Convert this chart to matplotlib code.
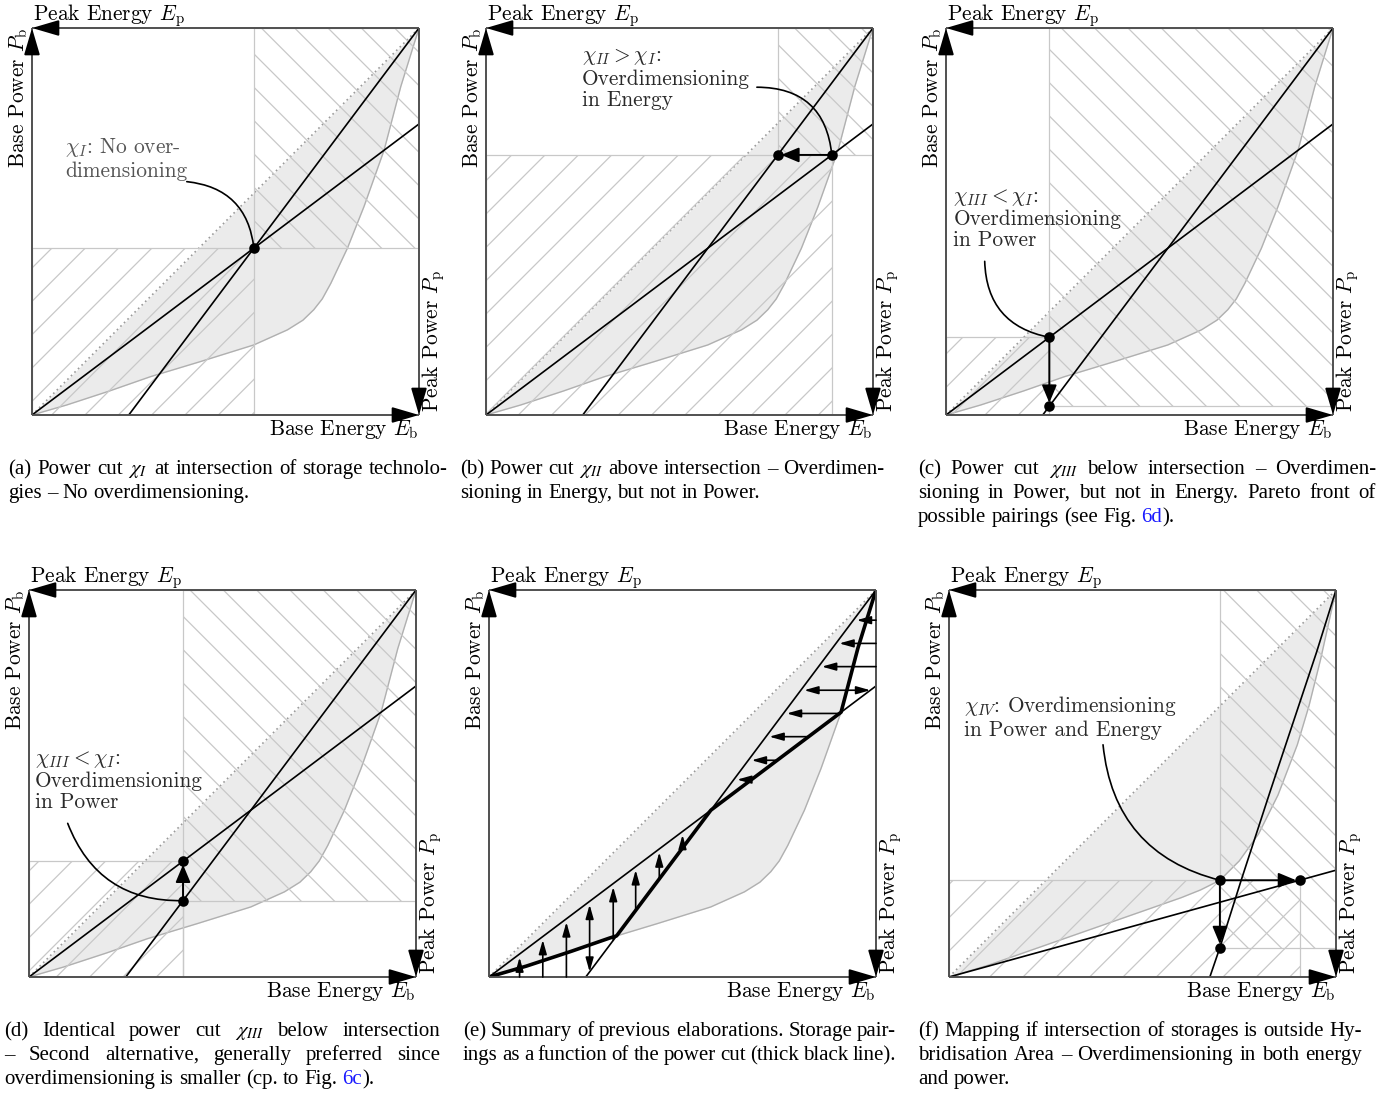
import matplotlib
matplotlib.use('Agg')
import matplotlib.pyplot as plt
from matplotlib.patches import Rectangle
import numpy as np

W, H, DPI = 1384, 1097, 200
plt.rcParams['hatch.linewidth'] = 0.45
plt.rcParams['mathtext.fontset'] = 'cm'

# lower edge of the hybridisation area (unit coords), panels a-e
curve_x = [0.0, 0.09, 0.2, 0.306, 0.435, 0.573, 0.66, 0.7, 0.728, 0.75, 0.772, 0.815, 0.858, 0.91, 0.953, 1.0]
curve_y = [0.0, 0.026, 0.062, 0.099, 0.138, 0.181, 0.22, 0.245, 0.272, 0.30, 0.34, 0.431, 0.539, 0.685, 0.849, 1.0]
# lower edge in panel f
curve_f_x = [0.0, 0.1, 0.2, 0.3, 0.4, 0.5, 0.6, 0.65, 0.7, 0.75, 0.8, 0.85, 0.9, 0.93, 0.96, 0.98, 1.0]
curve_f_y = [0.0, 0.03, 0.065, 0.10, 0.135, 0.17, 0.205, 0.225, 0.25, 0.30, 0.37, 0.47, 0.60, 0.70, 0.82, 0.91, 1.0]

# storage technology lines
shallow_slope = 0.752          # line through origin
steep_x0 = 0.25                # steep line from (steep_x0, 0) to (1, 1)
shallow_f_slope = 0.276        # panel f
steep_f_x = [0.674, 0.70, 0.755, 0.83, 0.90, 0.95, 1.0]
steep_f_y = [0.0, 0.076, 0.25, 0.48, 0.69, 0.84, 1.0]

# power cuts
cut_b = 0.672      # power level, panel b
cut_c = 0.267      # energy level, panel c
cut_d = 0.398      # energy level, panel d
cut_f = (0.70, 0.25)

# panel e arrows
up_x = [0.079, 0.139, 0.2, 0.26, 0.321, 0.379, 0.44, 0.5]
up_double = [0, 0, 0, 1, 0, 0, 0, 0]
left_y = [0.922, 0.862, 0.802, 0.741, 0.681, 0.621, 0.56, 0.51]
left_double = [0, 0, 0, 1, 0, 0, 0, 0]

captions = {
    'a': ["(a) Power cut $\\chi_I$ at intersection of storage technolo-",
          "gies – No overdimensioning."],
    'b': ["(b) Power cut $\\chi_{II}$ above intersection – Overdimen-",
          "sioning in Energy, but not in Power."],
    'c': ["(c) Power cut $\\chi_{III}$ below intersection – Overdimen-",
          "sioning in Power, but not in Energy. Pareto front of",
          "possible pairings (see Fig. #6d#)."],
    'd': ["(d) Identical power cut $\\chi_{III}$ below intersection",
          "– Second alternative, generally preferred since",
          "overdimensioning is smaller (cp. to Fig. #6c#)."],
    'e': ["(e) Summary of previous elaborations. Storage pair-",
          "ings as a function of the power cut (thick black line)."],
    'f': ["(f) Mapping if intersection of storages is outside Hy-",
          "bridisation Area – Overdimensioning in both energy",
          "and power."],
}
cap_box = {'a': (8, 448, 474), 'b': (460, 884, 474), 'c': (918, 1376, 474),
           'd': (4, 440, 1036), 'e': (463, 896, 1036), 'f': (918, 1362, 1036)}

S = 387
boxes = {'a': (32, 28), 'b': (486, 28), 'c': (946, 28),
         'd': (29, 590), 'e': (489, 590), 'f': (949, 590)}

fig = plt.figure(figsize=(W / DPI, H / DPI), dpi=DPI)
px = 1.0 / S
FS = 7.7
tkw = dict(family='cmr10', math_fontfamily='cm', fontsize=FS)


def shallow(x):
    return shallow_slope * np.asarray(x)


def steep(x):
    return (np.asarray(x) - steep_x0) / (1 - steep_x0)


def make_panel(key):
    L, T = boxes[key]
    ax = fig.add_axes([L / W, 1 - (T + S) / H, S / W, S / H])
    ax.set_xlim(0, 1)
    ax.set_ylim(0, 1)
    ax.axis('off')
    lkw = dict(color='#505050', lw=0.7, solid_capstyle='butt', zorder=6, clip_on=False)
    ax.plot([0, 1], [0, 0], **lkw)
    ax.plot([0, 0], [0, 1], **lkw)
    ax.plot([0, 1], [1, 1], **lkw)
    ax.plot([1, 1], [0, 1], **lkw)
    head = 26 * px
    for tip, d in [((1, 0), (-1, 0)), ((0, 1), (0, -1)), ((0, 1), (1, 0)), ((1, 0), (0, 1))]:
        ax.annotate('', xy=tip, xytext=(tip[0] + d[0] * head, tip[1] + d[1] * head),
                    arrowprops=dict(arrowstyle='-|>,head_length=0.75,head_width=0.22',
                                    mutation_scale=11, color='black', lw=0.7,
                                    shrinkA=0, shrinkB=0),
                    annotation_clip=False, zorder=7)
    ax.text(0.003, 1 + 8 * px, 'Peak Energy $E_\\mathrm{p}$', ha='left', va='baseline', **tkw)
    ax.text(-8 * px, 1.0, 'Base Power $P_\\mathrm{b}$', rotation=90, rotation_mode='anchor',
            ha='right', va='baseline', **tkw)
    ax.text(1 + 19 * px, 3 * px, 'Peak Power $P_\\mathrm{p}$', rotation=90, rotation_mode='anchor',
            ha='left', va='baseline', **tkw)
    ax.text(1.0, -20 * px, 'Base Energy $E_\\mathrm{b}$', ha='right', va='baseline', **tkw)
    return ax


def hybrid_area(ax, cx, cy):
    ax.fill_between(cx, cy, cx, color='#ebebeb', lw=0, zorder=1)
    ax.plot(cx, cy, color='#b0b0b0', lw=0.5, zorder=2)
    ax.plot([0, 1], [0, 1], color='#9a9a9a', lw=0.6, ls=(0, (1, 2)), zorder=2)


def cut_rects(ax, ll, ur):
    ax.add_patch(Rectangle((0, 0), ll[0], ll[1], fill=False, hatch='//',
                           edgecolor='#c8c8c8', lw=0.45, zorder=3))
    ax.add_patch(Rectangle(ur, 1 - ur[0], 1 - ur[1], fill=False, hatch='\\\\',
                           edgecolor='#c8c8c8', lw=0.45, zorder=3))


def tech_lines(ax):
    ax.plot([0, 1], [0, shallow(1)], color='black', lw=0.6, zorder=4)
    ax.plot([steep_x0, 1], [0, 1], color='black', lw=0.6, zorder=4)


def dots(ax, pts):
    ax.plot([p[0] for p in pts], [p[1] for p in pts], 'o', color='black', ms=2.8, zorder=8)


def arrow(ax, a, b, style='-|>', ms=9, hl=0.6, hw=0.25, lw=0.7):
    ax.annotate('', xy=b, xytext=a,
                arrowprops=dict(arrowstyle=f'{style},head_length={hl},head_width={hw}',
                                mutation_scale=ms, color='black', lw=lw,
                                shrinkA=0, shrinkB=1.2),
                zorder=7)


def note(ax, txt, pos, start, end, rad, color='#2a2a2a'):
    ax.text(pos[0], pos[1], txt, ha='left', va='top', color=color, linespacing=1.12, **tkw)
    ax.annotate('', xy=end, xytext=start,
                arrowprops=dict(arrowstyle='-', connectionstyle=f'arc3,rad={rad}',
                                color='black', lw=0.6, shrinkA=0, shrinkB=0), zorder=5)


# (a) intersection
ax = make_panel('a')
xi = steep_x0 / (1 - shallow_slope * (1 - steep_x0))
pi = (xi, shallow(xi))
hybrid_area(ax, curve_x, curve_y)
cut_rects(ax, pi, pi)
tech_lines(ax)
dots(ax, [pi])
note(ax, '$\\chi_I$: No over-\ndimensioning', (0.086, 0.72), (0.40, 0.603), pi, -0.4, color='#555555')

# (b) cut above intersection
ax = make_panel('b')
pb1 = (cut_b / shallow_slope, cut_b)
pb2 = (steep_x0 + cut_b * (1 - steep_x0), cut_b)
hybrid_area(ax, curve_x, curve_y)
cut_rects(ax, pb1, pb2)
tech_lines(ax)
arrow(ax, pb1, pb2)
dots(ax, [pb1, pb2])
note(ax, '$\\chi_{II} > \\chi_I$:\nOverdimensioning\nin Energy', (0.247, 0.95), (0.70, 0.847), pb1, -0.45)

# (c) cut below intersection
ax = make_panel('c')
pc1 = (cut_c, float(shallow(cut_c)))
pc2 = (cut_c, float(steep(cut_c)))
hybrid_area(ax, curve_x, curve_y)
cut_rects(ax, pc1, pc2)
tech_lines(ax)
arrow(ax, pc1, pc2)
dots(ax, [pc1, pc2])
note(ax, '$\\chi_{III} < \\chi_I$:\nOverdimensioning\nin Power', (0.019, 0.59), (0.10, 0.397), pc1, 0.4)

# (d) identical cut, second alternative
ax = make_panel('d')
pd1 = (cut_d, float(shallow(cut_d)))
pd2 = (cut_d, float(steep(cut_d)))
hybrid_area(ax, curve_x, curve_y)
cut_rects(ax, pd1, pd2)
ax.plot([cut_d, cut_d], [0, pd2[1]], color='#c8c8c8', lw=0.45, zorder=3)
tech_lines(ax)
arrow(ax, pd2, pd1)
dots(ax, [pd1, pd2])
note(ax, '$\\chi_{III} < \\chi_I$:\nOverdimensioning\nin Power', (0.015, 0.59), (0.10, 0.397), pd2, 0.35)

# (e) summary, pareto front
ax = make_panel('e')
hybrid_area(ax, curve_x, curve_y)
tech_lines(ax)
xs = np.linspace(0, 1, 600)
front = np.maximum(np.interp(xs, curve_x, curve_y), np.minimum(shallow(xs), steep(xs)))
ax.plot(xs, front, color='black', lw=1.3, zorder=5, solid_joinstyle='miter')
for x, dbl in zip(up_x, up_double):
    y0 = max(0.0, float(steep(x)))
    arrow(ax, (x, y0), (x, float(shallow(x))), style='<|-|>' if dbl else '-|>',
          ms=7, hl=0.6, hw=0.17, lw=0.6)
for y, dbl in zip(left_y, left_double):
    x0 = min(1.0, y / shallow_slope)
    arrow(ax, (x0, y), (steep_x0 + y * (1 - steep_x0), y), style='<|-|>' if dbl else '-|>',
          ms=7, hl=0.6, hw=0.17, lw=0.6)

# (f) intersection outside hybridisation area
ax = make_panel('f')
pf1 = cut_f
pf2 = (cut_f[1] / shallow_f_slope, cut_f[1])
pf3 = (cut_f[0], float(np.interp(cut_f[0], steep_f_x, steep_f_y)))
hybrid_area(ax, curve_f_x, curve_f_y)
cut_rects(ax, pf2, pf3)
ax.plot([0, 1], [0, shallow_f_slope], color='black', lw=0.6, zorder=4)
ax.plot(steep_f_x, steep_f_y, color='black', lw=0.6, zorder=4)
arrow(ax, pf1, pf2)
arrow(ax, pf1, pf3)
dots(ax, [pf1, pf2, pf3])
note(ax, '$\\chi_{IV}$: Overdimensioning\nin Power and Energy', (0.04, 0.73), (0.398, 0.6), pf1, 0.35)

# captions (justified like the paper)
renderer = fig.canvas.get_renderer()
CFS = 7.5
ckw = dict(family='Liberation Serif', math_fontfamily='stix', fontsize=CFS, va='baseline', ha='left')
space = 0.25 * CFS * DPI / 72


def word_parts(w):
    parts = w.split('#')
    out = []
    for i, p in enumerate(parts):
        if p:
            out.append((p, '#1a1aff' if i % 2 else 'black'))
    return out


for key, lines in captions.items():
    x0, x1, yb = cap_box[key]
    for i, line in enumerate(lines):
        y = yb + 24 * i
        words = []
        for w in line.split(' '):
            texts = []
            width = 0
            for p, c in word_parts(w):
                t = fig.text(0, 1 - y / H, p, color=c, **ckw)
                wd = t.get_window_extent(renderer).width
                texts.append((t, wd))
                width += wd
            words.append((texts, width))
        total = sum(w[1] for w in words)
        if i < len(lines) - 1 and len(words) > 1:
            gap = (x1 - x0 - total) / (len(words) - 1)
        else:
            gap = min(space, (x1 - x0 - total) / max(len(words) - 1, 1))
        x = x0
        for texts, width in words:
            xx = x
            for t, wd in texts:
                t.set_x(xx / W)
                xx += wd
            x += width + gap

fig.savefig('out.png', dpi=DPI)
